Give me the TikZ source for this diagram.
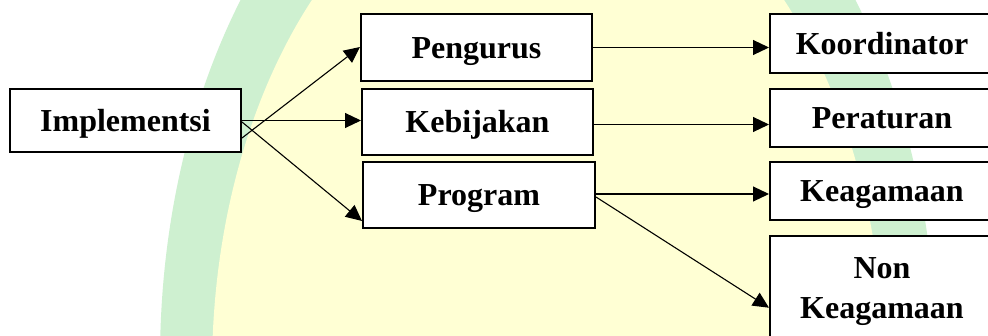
\documentclass[tikz,border=0pt]{standalone}
\usepackage{fontspec}
\setmainfont{Liberation Serif}
\usetikzlibrary{arrows.meta,calc}
\definecolor{wmgreen}{RGB}{206,240,208}
\definecolor{wmyellow}{RGB}{255,255,212}
\begin{document}
\begin{tikzpicture}[x=1pt,y=-1pt,
  boxbase/.style={draw=black, line width=2pt, fill=white, inner sep=0pt,
    font=\fontsize{32}{40}\selectfont\bfseries},
  box/.style={boxbase, text height=22pt, text depth=0pt},
  conn/.style={line width=1.1pt, -{Triangle[length=16pt,width=15pt]}}]
\useasboundingbox (0,0) rectangle (988,336);
\clip (0,0) rectangle (988,336);
\fill[white] (0,0) rectangle (988,336);
\fill[wmgreen] (548,360) ellipse [x radius=388, y radius=590];
\fill[wmyellow] (548,370) ellipse [x radius=336, y radius=520];

\node[box, minimum width=231pt, minimum height=63pt] (impl) at (125.5,120.5) {Implementsi};
\node[box, minimum width=231pt, minimum height=67pt] (peng) at (476.5,47.5) {Pengurus};
\node[box, minimum width=231pt, minimum height=66pt] (kebi) at (477.5,122) {Kebijakan};
\node[box, minimum width=232pt, minimum height=66pt] (prog) at (479,195) {Program};
\node[box, minimum width=224pt, minimum height=59pt] (koor) at (882,43.5) {Koordinator};
\node[box, minimum width=224pt, minimum height=58pt] (pera) at (882,118) {Peraturan};
\node[box, minimum width=224pt, minimum height=58pt] (keag) at (882,191) {Keagamaan};
\node[boxbase, align=center, minimum width=224pt, minimum height=111.5pt] (nonk) at (882,291.75) {Non\\Keagamaan};

\coordinate (i1) at ($(impl.east)+(0,17.5)$);
\coordinate (i3) at ($(impl.east)+(0,1.5)$);
\coordinate (k1) at ($(kebi.east)+(0,2.5)$);
\coordinate (p1) at ($(prog.east)+(0,-1)$);
\coordinate (p2) at ($(prog.east)+(0,2)$);

\draw[conn] (i1) -- ($(peng.west)+(0,-0.5)$);
\draw[conn] (impl.east) -- (impl.east -| kebi.west);
\draw[conn] (i3) -- ($(prog.south west)+(0,-8)$);
\draw[conn] (peng.east) -- (peng.east -| koor.west);
\draw[conn] (k1) -- (k1 -| pera.west);
\draw[conn] (p1) -- (p1 -| keag.west);
\draw[conn] (p2) -- ($(nonk.west)+(0,16)$);
\end{tikzpicture}
\end{document}
